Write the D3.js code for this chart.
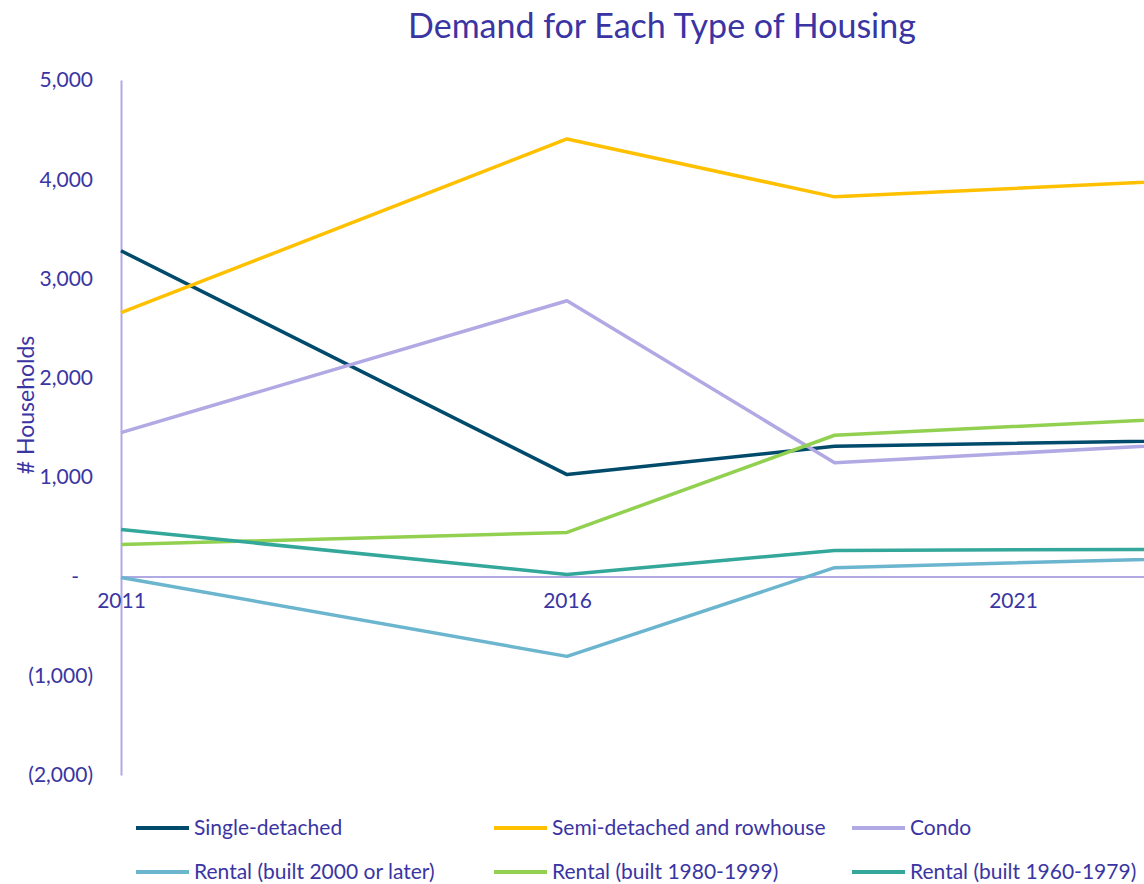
<!DOCTYPE html>
<html>
<head>
<script src="https://d3js.org/d3.v7.min.js"></script>
<style>
body { margin: 0; background: #fff; }
svg { display: block; font-family: Lato, "Open Sans", sans-serif; }
.axis text { fill: #3A35A3; font-size: 21px; font-family: Lato, "Open Sans", sans-serif; }
</style>
</head>
<body>
<div id="chart"></div>
<script>

// data (households)
var years = [2011, 2016, 2019, 2026];
var tickYears = [2011, 2016, 2021];
var yTicks = [-2000, -1000, 0, 1000, 2000, 3000, 4000, 5000];

var singleDetached = [3280, 1026, 1311, 1412];
var semiDetached   = [2656, 4406, 3823, 4122];
var condo          = [1449, 2777, 1144, 1481];
var rental2000     = [-10, -805, 88, 255];
var rental1980     = [322, 443, 1422, 1727];
var rental1960     = [473, 20, 262, 282];

var seriesNames = ["Single-detached", "Semi-detached and rowhouse", "Condo",
  "Rental (built 2000 or later)", "Rental (built 1980-1999)", "Rental (built 1960-1979)"];
var seriesColors = ["#004B6B", "#FFC000", "#B1A9E3", "#6BB5CF", "#92D050", "#33A89A"];
var seriesValues = [singleDetached, semiDetached, condo, rental2000, rental1980, rental1960];

var width = 1144, height = 884;
var textColor = "#3A35A3", axisColor = "#B1A9E3";

var svg = d3.select("#chart").append("svg")
  .attr("width", width)
  .attr("height", height);

// scales: the original chart runs off the right edge
var x = d3.scaleLinear().domain([2011, 2026]).range([121, 121 + 15 * 89.2]);
var y = d3.scaleLinear().domain([-2000, 5000]).range([775, 80]);

svg.append("text")
  .attr("x", 662)
  .attr("y", 38)
  .attr("text-anchor", "middle")
  .attr("fill", textColor)
  .style("font-size", "34px")
  .text("Demand for Each Type of Housing");

// y axis
var yAxis = svg.append("g")
  .attr("class", "axis")
  .attr("transform", "translate(121,0)")
  .call(d3.axisLeft(y).tickValues(yTicks).tickSize(0).tickPadding(28)
    .tickFormat(function(d) {
      if (d === 0) return "-";
      var s = d3.format(",")(Math.abs(d));
      return d < 0 ? "(" + s + ")" : s;
    }));
yAxis.select(".domain").attr("stroke", axisColor).attr("stroke-width", 2);
yAxis.selectAll(".tick").filter(function(d) { return d === 0; })
  .select("text").attr("dx", "-14px");

// zero line with year labels
var xAxis = svg.append("g")
  .attr("class", "axis")
  .attr("transform", "translate(0," + y(0) + ")")
  .call(d3.axisBottom(x).tickValues(tickYears).tickSize(0).tickPadding(17)
    .tickFormat(d3.format("d")));
xAxis.select(".domain").attr("stroke", axisColor).attr("stroke-width", 2);

svg.append("text")
  .attr("transform", "translate(34,405) rotate(-90)")
  .attr("text-anchor", "middle")
  .attr("fill", textColor)
  .style("font-size", "23px")
  .text("# Households");

var line = d3.line()
  .x(function(d, i) { return x(years[i]); })
  .y(function(d) { return y(d); });

svg.selectAll(".series")
  .data(seriesValues)
  .enter().append("path")
  .attr("class", "series")
  .attr("fill", "none")
  .attr("stroke", function(d, i) { return seriesColors[i]; })
  .attr("stroke-width", 3.5)
  .attr("stroke-linejoin", "round")
  .attr("d", line);

// legend
var legend = svg.selectAll(".legend")
  .data(seriesNames)
  .enter().append("g")
  .attr("class", "legend")
  .attr("transform", function(d, i) {
    return "translate(" + (136 + (i % 3) * 358) + "," + (828 + Math.floor(i / 3) * 44) + ")";
  });

legend.append("line")
  .attr("x1", 0).attr("x2", 53)
  .attr("stroke", function(d, i) { return seriesColors[i]; })
  .attr("stroke-width", 4);

legend.append("text")
  .attr("x", 58)
  .attr("dy", "0.35em")
  .attr("fill", textColor)
  .style("font-size", "21px")
  .text(function(d) { return d; });

</script>
</body>
</html>
